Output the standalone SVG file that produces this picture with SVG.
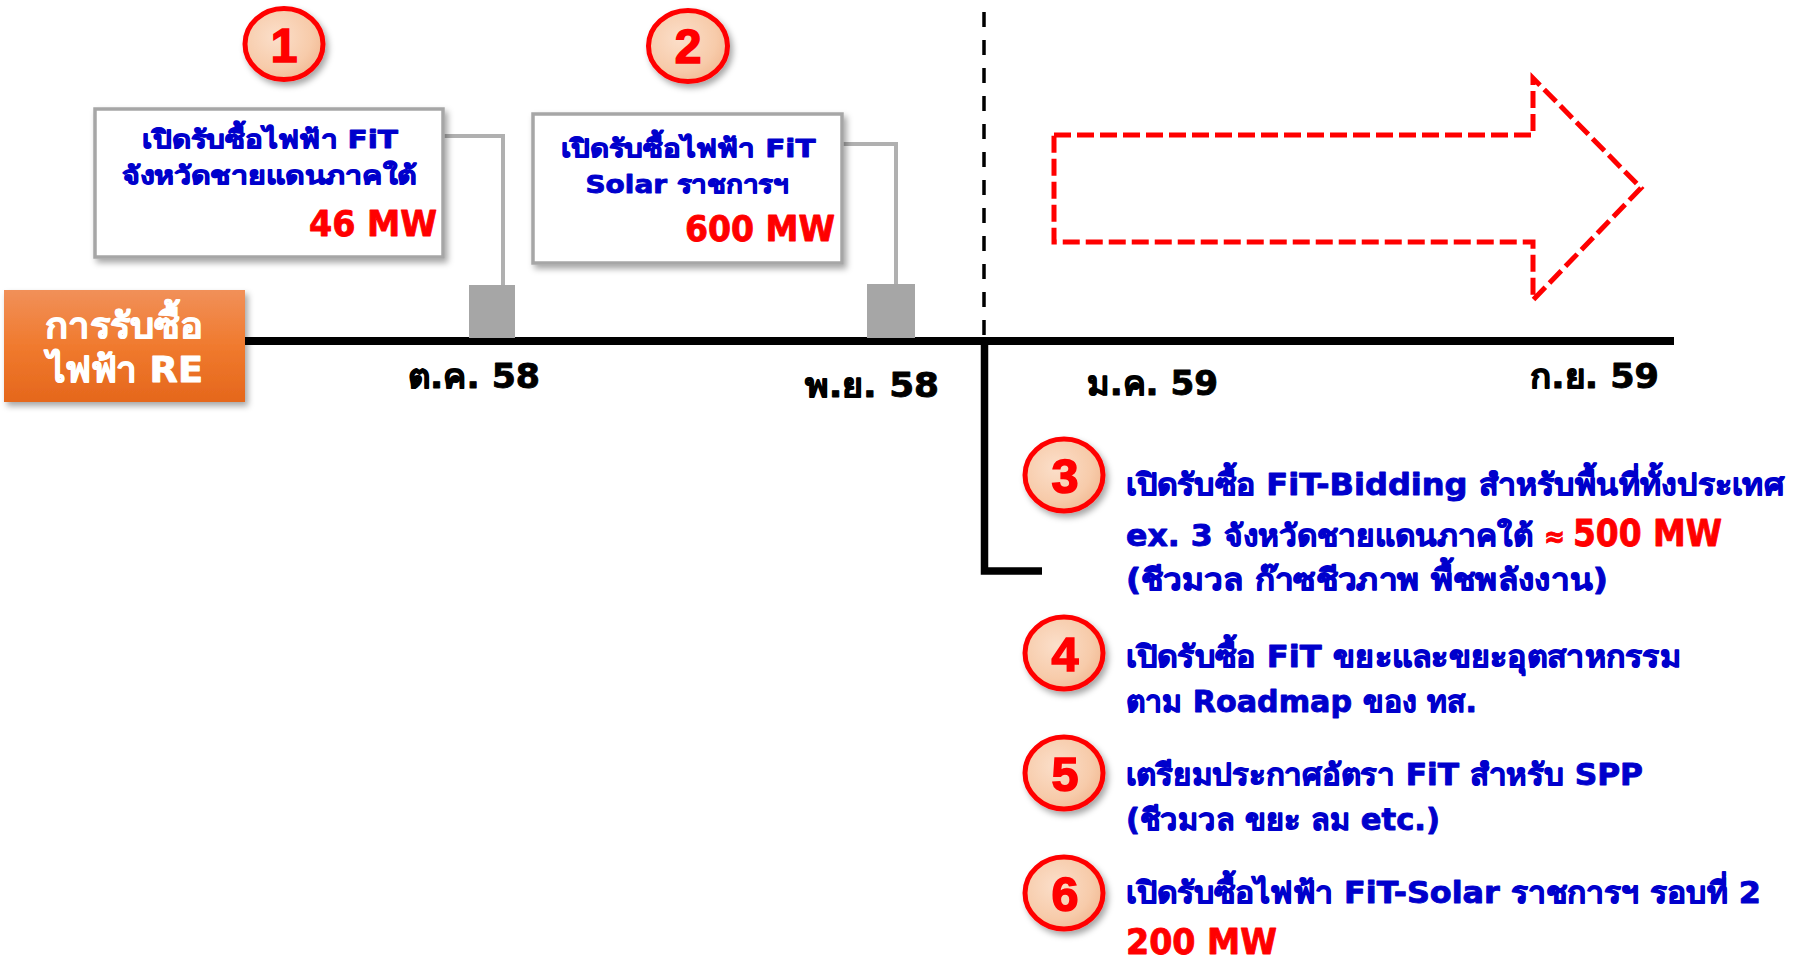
<svg xmlns="http://www.w3.org/2000/svg" width="1800" height="959" viewBox="0 0 1800 959">
<defs>
<style>
.b{font-family:"DejaVu Sans","Noto Sans",sans-serif;font-weight:bold;stroke-width:0.9;stroke-linejoin:round;}
.blue{fill:#0000CC;stroke:#0000CC;}
.red{fill:#FF0000;stroke:#FF0000;}
.blk{fill:#000000;stroke:#000000;}
.wht{fill:#FFFFFF;stroke:#FFFFFF;}
.dig{font-family:"Liberation Sans",Arial,sans-serif;font-weight:bold;font-size:48px;fill:#FF0000;stroke:#FF0000;stroke-width:1.6;text-anchor:middle;}
.num{fill:url(#peach);stroke:#FF0000;stroke-width:5;filter:url(#sh);}
.box{fill:#FFFFFF;stroke:#A6A6A6;stroke-width:3.5;filter:url(#sh);}
.conn{fill:none;stroke:#B0B0B0;stroke-width:4;}
.sq{fill:#A6A6A6;}
</style>
<radialGradient id="peach" cx="0.4" cy="0.4" r="0.65">
<stop offset="0" stop-color="#FBDFCA"/>
<stop offset="0.7" stop-color="#F7CBAA"/>
<stop offset="1" stop-color="#F2BA94"/>
</radialGradient>
<linearGradient id="orange" x1="0" y1="0" x2="0" y2="1">
<stop offset="0" stop-color="#F19059"/>
<stop offset="0.5" stop-color="#F07A2E"/>
<stop offset="1" stop-color="#E5671C"/>
</linearGradient>
<filter id="sh" x="-20%" y="-20%" width="140%" height="150%">
<feDropShadow dx="3" dy="4" stdDeviation="3" flood-color="#000000" flood-opacity="0.35"/>
</filter>
</defs>

<g id="connectors">
<polyline class="conn" points="443,136 503,136 503,286"/>
<polyline class="conn" points="842,144 896,144 896,285"/>
<line x1="244" y1="341" x2="1674" y2="341" stroke="#000" stroke-width="8"/>
<line x1="984" y1="12" x2="984" y2="337" stroke="#000" stroke-width="3.5" stroke-dasharray="15,13"/>
<polyline points="984.5,341 984.5,571 1042,571" fill="none" stroke="#000" stroke-width="7.5"/>
</g>

<g id="re-label">
<rect x="4" y="290" width="241" height="112" fill="url(#orange)" filter="url(#sh)"/>
<text class="b wht" x="124" y="338" font-size="36" text-anchor="middle" textLength="158" lengthAdjust="spacingAndGlyphs">การรับซื้อ</text>
<text class="b wht" x="125" y="382" font-size="36" text-anchor="middle" textLength="156" lengthAdjust="spacingAndGlyphs">ไฟฟ้า RE</text>
</g>

<g id="marker-oct58">
<rect class="sq" x="469" y="285" width="46" height="53"/>
<text class="b blk" x="408" y="388" font-size="33" textLength="132" lengthAdjust="spacingAndGlyphs">ต.ค. 58</text>
</g>
<g id="marker-nov58">
<rect class="sq" x="867" y="284" width="48" height="54"/>
<text class="b blk" x="805" y="397" font-size="33" textLength="134" lengthAdjust="spacingAndGlyphs">พ.ย. 58</text>
</g>
<g id="label-jan59">
<text class="b blk" x="1087" y="395" font-size="33" textLength="131" lengthAdjust="spacingAndGlyphs">ม.ค. 59</text>
</g>
<g id="label-sep59">
<text class="b blk" x="1530" y="388" font-size="33" textLength="129" lengthAdjust="spacingAndGlyphs">ก.ย. 59</text>
</g>

<g id="node1">
<ellipse class="num" cx="284" cy="44" rx="39" ry="35.5"/>
<text class="dig" x="284" y="62">1</text>
</g>
<g id="box1">
<rect class="box" x="95" y="109" width="348" height="148"/>
<text class="b blue" x="270" y="148" font-size="25" text-anchor="middle" textLength="256" lengthAdjust="spacingAndGlyphs">เปิดรับซื้อไฟฟ้า FiT</text>
<text class="b blue" x="269" y="184" font-size="25" text-anchor="middle" textLength="295" lengthAdjust="spacingAndGlyphs">จังหวัดชายแดนภาคใต้</text>
<text class="b red" x="437" y="236" font-size="36" text-anchor="end" textLength="128" lengthAdjust="spacingAndGlyphs">46 MW</text>
</g>

<g id="node2">
<ellipse class="num" cx="688" cy="46" rx="39.5" ry="35.5"/>
<text class="dig" x="688" y="63">2</text>
</g>
<g id="box2">
<rect class="box" x="533" y="114" width="309" height="149"/>
<text class="b blue" x="688" y="157" font-size="25" text-anchor="middle" textLength="255" lengthAdjust="spacingAndGlyphs">เปิดรับซื้อไฟฟ้า FiT</text>
<text class="b blue" x="687" y="193" font-size="25" text-anchor="middle" textLength="203" lengthAdjust="spacingAndGlyphs">Solar ราชการฯ</text>
<text class="b red" x="835" y="241" font-size="36" text-anchor="end" textLength="150" lengthAdjust="spacingAndGlyphs">600 MW</text>
</g>

<g id="future-arrow">
<path d="M1054,135 L1533,135 L1533,78 L1641,188 L1533,300 L1533,242 L1054,242 Z" fill="none" stroke="#FF0000" stroke-width="5" stroke-dasharray="17,6"/>
</g>

<g id="item3">
<ellipse class="num" cx="1064" cy="475" rx="39" ry="36"/>
<text class="dig" x="1065" y="493" textLength="27" lengthAdjust="spacingAndGlyphs">3</text>
<text class="b blue" x="1126" y="495" font-size="30" textLength="658" lengthAdjust="spacingAndGlyphs">เปิดรับซื้อ FiT-Bidding สำหรับพื้นที่ทั้งประเทศ</text>
<text class="b blue" x="1126" y="546" font-size="30" textLength="407" lengthAdjust="spacingAndGlyphs">ex. 3 จังหวัดชายแดนภาคใต้</text>
<text class="b red" x="1544" y="546" font-size="28" textLength="21" lengthAdjust="spacingAndGlyphs">≈</text>
<text class="b red" x="1573" y="546" font-size="37" textLength="149" lengthAdjust="spacingAndGlyphs">500 MW</text>
<text class="b blue" x="1126" y="590" font-size="30" textLength="482" lengthAdjust="spacingAndGlyphs">(ชีวมวล ก๊าซชีวภาพ พื้ชพลังงาน)</text>
</g>

<g id="item4">
<ellipse class="num" cx="1064" cy="653" rx="39" ry="36"/>
<text class="dig" x="1065" y="671" textLength="27" lengthAdjust="spacingAndGlyphs">4</text>
<text class="b blue" x="1126" y="667" font-size="30" textLength="555" lengthAdjust="spacingAndGlyphs">เปิดรับซื้อ FiT ขยะและขยะอุตสาหกรรม</text>
<text class="b blue" x="1126" y="712" font-size="30" textLength="351" lengthAdjust="spacingAndGlyphs">ตาม Roadmap ของ ทส.</text>
</g>

<g id="item5">
<ellipse class="num" cx="1064" cy="773" rx="39" ry="36"/>
<text class="dig" x="1065" y="791" textLength="27" lengthAdjust="spacingAndGlyphs">5</text>
<text class="b blue" x="1126" y="785" font-size="30" textLength="517" lengthAdjust="spacingAndGlyphs">เตรียมประกาศอัตรา FiT สำหรับ SPP</text>
<text class="b blue" x="1126" y="830" font-size="30" textLength="314" lengthAdjust="spacingAndGlyphs">(ชีวมวล ขยะ ลม etc.)</text>
</g>

<g id="item6">
<ellipse class="num" cx="1064" cy="893" rx="39" ry="36"/>
<text class="dig" x="1065" y="911" textLength="27" lengthAdjust="spacingAndGlyphs">6</text>
<text class="b blue" x="1126" y="903" font-size="30" textLength="635" lengthAdjust="spacingAndGlyphs">เปิดรับซื้อไฟฟ้า FiT-Solar ราชการฯ รอบที่ 2</text>
<text class="b red" x="1126" y="954" font-size="35" textLength="151" lengthAdjust="spacingAndGlyphs">200 MW</text>
</g>
</svg>
